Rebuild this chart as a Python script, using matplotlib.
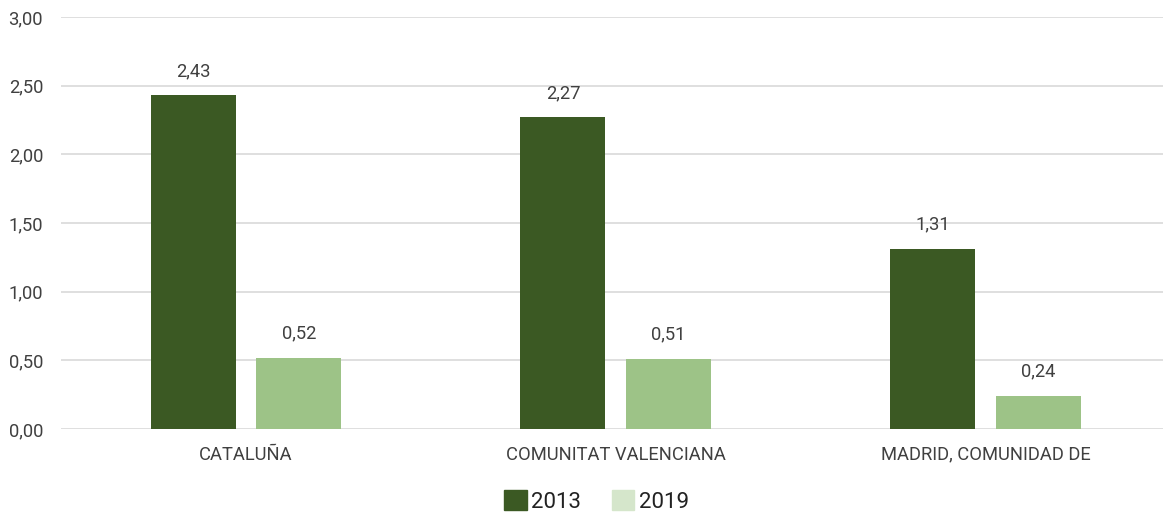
import matplotlib.pyplot as plt
from matplotlib.patches import Patch
from matplotlib.ticker import FuncFormatter
import numpy as np

plt.rcParams['font.family'] = ['Roboto', 'DejaVu Sans']

# datos por comunidad
regiones = ['CATALUÑA', 'COMUNITAT VALENCIANA', 'MADRID, COMUNIDAD DE']
valores_2013 = [2.43, 2.27, 1.31]
valores_2019 = [0.52, 0.51, 0.24]
anios = ['2013', '2019']

verde_osc = '#3b5923'
verde_cla = '#9dc387'
verde_ley = '#d5e6cb'
gris_txt = '#404040'

fig = plt.figure(figsize=(11.63, 5.15), dpi=100)
ax = fig.add_axes([0.0525, 0.167, 0.954, 0.8])

x = np.arange(len(regiones))
ancho = 0.23
desp = 0.143

b1 = ax.bar(x - desp, valores_2013, ancho, color=verde_osc, zorder=3)
b2 = ax.bar(x + desp, valores_2019, ancho, color=verde_cla, zorder=3)

for barras in (b1, b2):
    for b in barras:
        h = b.get_height()
        ax.annotate(f'{h:.2f}'.replace('.', ','), (b.get_x() + b.get_width() / 2, h),
                    xytext=(0, 11), textcoords='offset points', ha='center', va='bottom',
                    fontsize=13.2, color=gris_txt)

ax.set_xlim(-0.5, 2.5)
ax.set_ylim(0, 3)
ax.set_yticks(np.arange(0, 3.01, 0.5))
ax.yaxis.set_major_formatter(FuncFormatter(lambda v, p: f'{v:.2f}'.replace('.', ',')))
ax.set_xticks(x)
ax.set_xticklabels(regiones)
ax.tick_params(axis='both', length=0, labelsize=13.2, labelcolor=gris_txt)
ax.tick_params(axis='x', pad=12)
ax.tick_params(axis='y', pad=13)
ax.grid(axis='y', color='#d9d9d9', linewidth=1.2, zorder=0)
for s in ax.spines.values():
    s.set_visible(False)

handles = [Patch(color=verde_osc), Patch(color=verde_ley)]
fig.legend(handles, anios, loc='lower center', bbox_to_anchor=(0.513, -0.035), ncol=2,
           frameon=False, fontsize=16, handlelength=1.0, handleheight=1.0,
           handletextpad=0.2, columnspacing=1.4, labelcolor='#222222')

fig.savefig('out.png', dpi=100)
